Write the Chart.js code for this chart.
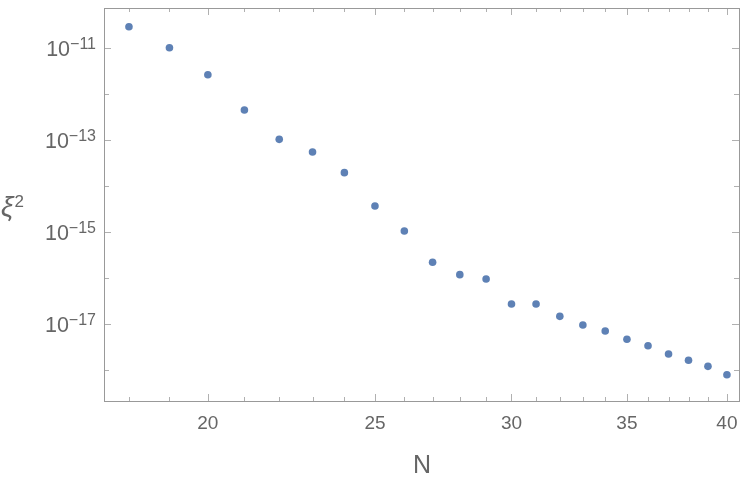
<!DOCTYPE html>
<html>
<head>
<meta charset="utf-8">
<script src="https://cdn.jsdelivr.net/npm/chart.js@4/dist/chart.umd.min.js"></script>
<style>
  html, body { margin: 0; padding: 0; background: #fff; }
  #wrap { width: 750px; height: 484px; }
</style>
</head>
<body>
<div id="wrap"><canvas id="xiChart" width="750" height="484"></canvas></div>
<script>
  // Data (log-log plot of xi^2 against N)
  const nValues = [18, 19, 20, 21, 22, 23, 24, 25, 26, 27, 28, 29, 30, 31, 32, 33, 34, 35, 36, 37, 38, 39, 40];
  const xi2Values = [
    2.95e-11, 1.03e-11, 2.67e-12, 4.56e-13, 1.05e-13, 5.57e-14, 1.98e-14, 3.73e-15,
    1.07e-15, 2.23e-16, 1.20e-16, 9.66e-17, 2.76e-17, 2.76e-17, 1.49e-17, 9.66e-18,
    7.15e-18, 4.72e-18, 3.43e-18, 2.26e-18, 1.65e-18, 1.22e-18, 8.0e-19
  ];

  // Axis ticks
  const xTickValues = [18, 19, 20, 21, 22, 23, 24, 25, 26, 27, 28, 29, 30, 31, 32, 33, 34, 35, 36, 37, 38, 39, 40];
  const xTickLabels = [20, 25, 30, 35, 40];
  const yTickExponents = [-18, -17, -16, -15, -14, -13, -12, -11];
  const yLabelExponents = [-17, -15, -13, -11];

  const pointColor = '#5e81b5';
  const frameColor = '#999999';
  const tickColor = '#b0b0b0';
  const textColor = '#666666';
  const sans = '"Liberation Sans", Arial, sans-serif';

  const points = nValues.map((n, i) => ({ x: n, y: xi2Values[i] }));

  // Frame, inward ticks, y labels with superscripts and axis titles
  const framePlugin = {
    id: 'frame',
    afterDraw(chart) {
      const { ctx, chartArea: a } = chart;
      const xs = chart.scales.x;
      const ys = chart.scales.y;
      ctx.save();

      ctx.strokeStyle = tickColor;
      ctx.lineWidth = 1;
      xs.ticks.forEach((t) => {
        const px = Math.round(xs.getPixelForValue(t.value)) + 0.5;
        const len = xTickLabels.includes(t.value) ? 7 : 4;
        ctx.beginPath();
        ctx.moveTo(px, a.bottom); ctx.lineTo(px, a.bottom - len);
        ctx.moveTo(px, a.top); ctx.lineTo(px, a.top + len);
        ctx.stroke();
      });
      ys.ticks.forEach((t) => {
        const py = Math.round(ys.getPixelForValue(t.value)) + 0.5;
        const len = yLabelExponents.includes(Math.round(Math.log10(t.value))) ? 7 : 5;
        ctx.beginPath();
        ctx.moveTo(a.left, py); ctx.lineTo(a.left + len, py);
        ctx.moveTo(a.right, py); ctx.lineTo(a.right - len, py);
        ctx.stroke();
      });

      ctx.strokeStyle = frameColor;
      ctx.strokeRect(Math.round(a.left) + 0.5, Math.round(a.top) + 0.5,
        Math.round(a.right - a.left), Math.round(a.bottom - a.top));

      // y tick labels: 10^e
      ctx.fillStyle = textColor;
      ctx.textBaseline = 'alphabetic';
      ctx.textAlign = 'left';
      yLabelExponents.forEach((e) => {
        const py = ys.getPixelForValue(Math.pow(10, e));
        const sup = '\u2212' + Math.abs(e);
        ctx.font = '16px ' + sans;
        const supW = ctx.measureText(sup).width;
        ctx.font = '21.5px ' + sans;
        const baseW = ctx.measureText('10').width;
        const right = a.left - 8;
        ctx.fillText('10', right - supW - baseW, py + 8);
        ctx.font = '16px ' + sans;
        ctx.fillText(sup, right - supW, py + 1);
      });

      // axis titles
      ctx.textAlign = 'center';
      ctx.font = '25px ' + sans;
      ctx.fillText('N', (a.left + a.right) / 2 + 0.5, 473);
      ctx.textAlign = 'left';
      ctx.font = 'italic 28px ' + sans;
      ctx.fillText('\u03be', 1, 216);
      const xiW = ctx.measureText('\u03be').width;
      ctx.font = '17px ' + sans;
      ctx.fillText('2', 1 + xiW + 1, 207);

      ctx.restore();
    },
  };

  new Chart(document.getElementById('xiChart'), {
    type: 'scatter',
    data: {
      datasets: [{
        data: points,
        backgroundColor: pointColor,
        borderWidth: 0,
        pointRadius: 3.8,
        pointHoverRadius: 3.8,
      }],
    },
    options: {
      responsive: false,
      animation: false,
      devicePixelRatio: 1,
      layout: { padding: { top: 8, right: 11, left: 0, bottom: 0 } },
      plugins: { legend: { display: false }, tooltip: { enabled: false } },
      scales: {
        x: {
          type: 'logarithmic',
          min: 17.41,
          max: 40.65,
          afterBuildTicks: (scale) => {
            scale.ticks = xTickValues.map((v) => ({ value: v }));
          },
          afterFit: (scale) => { scale.height = 83; },
          grid: { display: false, drawTicks: false },
          border: { display: false },
          ticks: {
            autoSkip: false,
            maxRotation: 0,
            padding: 11,
            color: textColor,
            font: { family: sans, size: 19 },
            callback: (v) => (xTickLabels.includes(v) ? String(v) : ''),
          },
        },
        y: {
          type: 'logarithmic',
          min: Math.pow(10, -18.667),
          max: Math.pow(10, -10.124),
          afterBuildTicks: (scale) => {
            scale.ticks = yTickExponents.map((e) => ({ value: Math.pow(10, e) }));
          },
          afterFit: (scale) => { scale.width = 104; },
          grid: { display: false, drawTicks: false },
          border: { display: false },
          ticks: { display: false },
        },
      },
    },
    plugins: [framePlugin],
  });
</script>
</body>
</html>
